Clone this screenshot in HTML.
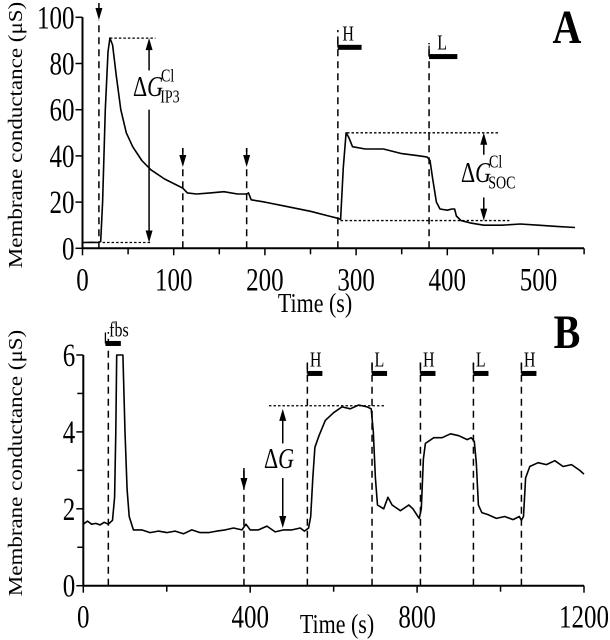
<!DOCTYPE html>
<html><head><meta charset="utf-8"><style>
html,body{margin:0;padding:0;background:#fff}
svg{display:block;font-family:"Liberation Serif",serif}
</style></head><body>
<svg id="fig" width="610" height="640" viewBox="0 0 610 640" xmlns="http://www.w3.org/2000/svg">
<g id="pa"></g>
<g id="pb"></g>
<text transform="translate(567,43) scale(1,1.2)" font-size="40" font-weight="bold" text-anchor="middle">A</text>
<text transform="translate(567,348) scale(1,1.2)" font-size="40" font-weight="bold" text-anchor="middle">B</text>
<text transform="translate(22,135) rotate(-90) scale(1.15,1)" font-size="20" text-anchor="middle">Membrane conductance (μS)</text>
<text transform="translate(22,463) rotate(-90) scale(1.15,1)" font-size="20" text-anchor="middle">Membrane conductance (μS)</text>
<text transform="translate(315,312) scale(1,1.25)" font-size="22" text-anchor="middle">Time (s)</text>
<text transform="translate(337,633) scale(1,1.25)" font-size="22" text-anchor="middle">Time (s)</text>
</svg>
<script>
const NS="http://www.w3.org/2000/svg";
// Panel A data
const aTime=[0,10,18,20,22,25,28,30,33,37,42,48,55,65,75,90,105,110,115,125,140,155,170,180,182,185,200,225,250,270,280,283,286,289,292,296,310,330,350,370,378,381,384,388,392,400,405,408,410,415,425,440,460,480,500,520,540];
const aG=[2.5,2.6,2.5,3,20,60,85,91,88,75,60,50,44,38,34,30,27,26,24,23.5,24,24.5,23.5,23.5,24,21,20,18,16,14,13,12.5,35,50,48,44,43,43,41,40,39.5,38,30,20,17,16.5,17,17,14,12,11,10,10,10.5,10,9.5,9];
const aXTicks=[0,100,200,300,400,500];
const aXMinor=[50,150,250,350,450,550];
const aYTicks=[0,20,40,60,80,100];
const aEvents=[18,110,180,280,380];
// Panel B data
const bTime=[0,10,20,30,40,50,60,70,75,78,80,95,100,105,110,120,140,160,180,200,220,240,260,280,300,320,340,360,380,390,400,420,440,460,480,500,520,530,540,545,550,555,565,580,600,620,640,660,680,690,695,700,705,720,730,740,760,780,790,805,810,815,820,840,860,880,900,920,930,937,942,947,955,970,990,1010,1030,1045,1050,1055,1060,1070,1090,1110,1130,1150,1170,1190,1200];
const bG=[1.6,1.68,1.6,1.62,1.58,1.65,1.6,1.7,2.3,4,6.5,6.5,4,2.5,1.8,1.45,1.45,1.38,1.42,1.38,1.42,1.35,1.45,1.38,1.38,1.42,1.45,1.5,1.45,1.6,1.45,1.45,1.55,1.4,1.45,1.45,1.5,1.42,1.5,1.8,2.8,3.6,3.9,4.3,4.5,4.65,4.6,4.7,4.65,4.6,4.0,2.8,2.1,2.0,2.3,2.1,1.95,2.1,2.0,1.75,2.0,3.3,3.7,3.85,3.85,3.95,3.9,3.8,3.85,3.75,3.2,2.1,1.9,1.85,1.75,1.8,1.72,1.8,1.7,1.8,2.8,3.1,3.2,3.15,3.25,3.1,3.15,3.0,2.9];
const bXTicks=[0,400,800,1200];
const bXMinor=[200,600,1000];
const bYTicks=[0,2,4,6];
const bYMinor=[1,3,5];
const bEvents=[60,385,537,692,808,935,1050];
const bBars=[537,692,808,935,1050];
const bBarLabels=["H","L","H","L","H"];

const ax={x0:82.5,x1:538.5,v1:500,y0:248.3,y1:17.3,w1:100};
const bx={x0:83.3,x1:584,v1:1200,y0:585.7,y1:355,w1:6};
function sx(a,v){return a.x0+(a.x1-a.x0)*v/a.v1;}
function sy(a,v){return a.y0+(a.y1-a.y0)*v/a.w1;}
function el(p,t,at){const e=document.createElementNS(NS,t);for(const k in at)e.setAttribute(k,at[k]);p.appendChild(e);return e;}
function txt(g,x,y,s,size,anchor){const t=el(g,'text',{transform:`translate(${x},${y}) scale(1,1.3)`,'font-size':size,'text-anchor':anchor});t.textContent=s;return t;}

function axes(g,a,xt,xm,yt,ym,xEnd){
  const x=el(g,'line',{x1:a.x0,y1:a.y0,x2:xEnd,y2:a.y0,stroke:'#000','stroke-width':2});
  
  
  const y=el(g,'line',{x1:a.x0,y1:a.y0,x2:a.x0,y2:a.y1,stroke:'#000','stroke-width':2});
  
  
  xt.forEach(v=>{const X=sx(a,v);
    el(g,'line',{x1:X,y1:a.y0,x2:X,y2:a.y0+7,stroke:'#000','stroke-width':1.5});
    const t=txt(g,X,a.y0+42,String(v),25,'middle');
    
    });
  xm.forEach(v=>{const X=sx(a,v);el(g,'line',{x1:X,y1:a.y0,x2:X,y2:a.y0+6,stroke:'#000','stroke-width':1.5});});
  yt.forEach(v=>{const Y=sy(a,v);
    el(g,'line',{x1:a.x0-7,y1:Y,x2:a.x0,y2:Y,stroke:'#000','stroke-width':1.5});
    const t=txt(g,a.x0-8,Y+11,String(v),25,'end');
    
    });
  ym.forEach(v=>{const Y=sy(a,v);el(g,'line',{x1:a.x0-6,y1:Y,x2:a.x0,y2:Y,stroke:'#000','stroke-width':1.5});});
}
function trace(g,a,ts,vs,clip){
  const d=ts.map((t,i)=>(i?'L':'M')+sx(a,t).toFixed(1)+','+Math.max(clip,sy(a,vs[i])).toFixed(1)).join('');
  const p=el(g,'path',{d:d,fill:'none',stroke:'#000','stroke-width':1.6,'stroke-linejoin':'round'});
  
  
}
function vdash(g,a,t,top){const X=sx(a,t);
  const l=el(g,'line',{x1:X,y1:a.y0,x2:X,y2:top,stroke:'#000','stroke-width':1.5,'stroke-dasharray':'7,5'});
  
  }
function dot(g,x1,x2,y){el(g,'line',{x1:x1,y1:y,x2:x2,y2:y,stroke:'#000','stroke-width':1.3,'stroke-dasharray':'2.5,2'});}
function arrowDown(g,x,yTop,yTip){el(g,'line',{x1:x,y1:yTop,x2:x,y2:yTip-8,stroke:'#000','stroke-width':1.5});
  el(g,'path',{d:`M${x-3.5},${yTip-12}L${x+3.5},${yTip-12}L${x},${yTip}Z`,fill:'#000'});}
function arrowUp(g,x,yBot,yTip){el(g,'line',{x1:x,y1:yBot,x2:x,y2:yTip+8,stroke:'#000','stroke-width':1.5});
  el(g,'path',{d:`M${x-3.5},${yTip+12}L${x+3.5},${yTip+12}L${x},${yTip}Z`,fill:'#000'});}
function bar(g,x1,x2,y,lab,tx){el(g,'rect',{x:x1,y:y-2.5,width:x2-x1,height:5,fill:'#000'});
  el(g,'line',{x1:x1,y1:y,x2:x1,y2:y-11,stroke:'#000','stroke-width':1.3});
  const t=txt(g,tx,y-7,lab,16,'start');
  
  }

// ---- Panel A
const ga=document.getElementById('pa');
axes(ga,ax,aXTicks,aXMinor,aYTicks,[],584);
const aTops=[20,148,148,30,43];
aEvents.forEach((t,i)=>vdash(ga,ax,t,aTops[i]));
trace(ga,ax,aTime,aG,0);
dot(ga,sx(ax,30),sx(ax,80),sy(ax,91));
dot(ga,sx(ax,22),sx(ax,75),sy(ax,2.5));
dot(ga,sx(ax,290),sx(ax,456),sy(ax,50));
dot(ga,sx(ax,283),sx(ax,468),sy(ax,12));
arrowDown(ga,sx(ax,18),3,20);
arrowDown(ga,sx(ax,110),148,167);
arrowDown(ga,sx(ax,180),148,167);
arrowUp(ga,sx(ax,73),sy(ax,77),sy(ax,91));
arrowDown(ga,sx(ax,73),sy(ax,60),sy(ax,2.5));
arrowUp(ga,sx(ax,440),sy(ax,40.5),sy(ax,50));
arrowDown(ga,sx(ax,440),sy(ax,22),sy(ax,12));
bar(ga,sx(ax,280),sx(ax,306),sy(ax,87),'H',sx(ax,285));
bar(ga,sx(ax,380),sx(ax,411),sy(ax,83),'L',sx(ax,389));
{const t=el(ga,'text',{transform:'translate(133,96) scale(1,1.3)','font-size':22});t.innerHTML='Δ<tspan font-style="italic">G</tspan><tspan font-size="14" dy="-11" dx="-2">Cl</tspan><tspan font-size="14" dy="16" dx="-14">IP3</tspan>';

}
{const t=el(ga,'text',{transform:'translate(461,182) scale(1,1.3)','font-size':22});t.innerHTML='Δ<tspan font-style="italic">G</tspan><tspan font-size="14" dy="-11" dx="-2">Cl</tspan><tspan font-size="14" dy="16" dx="-14">SOC</tspan>';

}

// ---- Panel B
const gb=document.getElementById('pb');
axes(gb,bx,bXTicks,bXMinor,bYTicks,bYMinor,584);
bEvents.forEach((t,i)=>vdash(gb,bx,t,i===0?332:(i===1?468:362)));
trace(gb,bx,bTime,bG,sy(bx,6));
bar(gb,sx(bx,53),sx(bx,90),sy(bx,6.3),'fbs',sx(bx,62));
bBars.forEach((t,i)=>bar(gb,sx(bx,t),sx(bx,t+36),sy(bx,5.52),bBarLabels[i],sx(bx,t+6)));
dot(gb,sx(bx,445),sx(bx,725),sy(bx,4.68));
arrowDown(gb,sx(bx,385),468,490);
arrowUp(gb,sx(bx,478),sy(bx,3.7),sy(bx,4.6));
arrowDown(gb,sx(bx,478),sy(bx,2.8),sy(bx,1.5));
{const t=el(gb,'text',{transform:'translate(264,468) scale(1,1.3)','font-size':22});t.innerHTML='Δ<tspan font-style="italic">G</tspan>';

}
</script>
</body></html>
